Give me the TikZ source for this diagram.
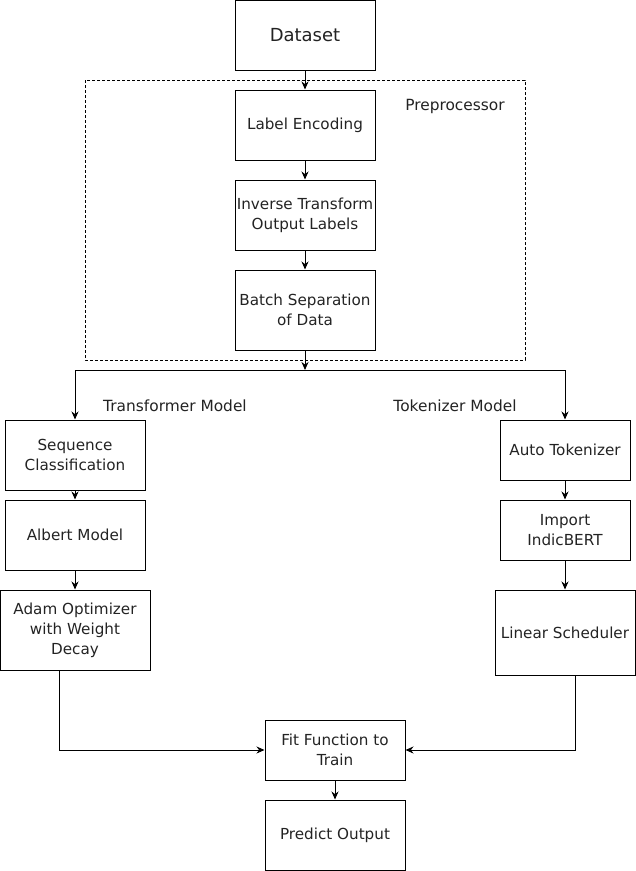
\documentclass[tikz,border=0pt]{standalone}
\usepackage{fontspec}
\setmainfont{DejaVu Sans}
\usetikzlibrary{arrows.meta,positioning}
\definecolor{txtgray}{RGB}{35,35,35}

\begin{document}
\begin{tikzpicture}[x=1pt,y=-1pt,
	block/.style={draw,line width=1pt,rectangle,inner sep=0pt,align=center,
		text=txtgray,font=\fontsize{15.2}{20}\selectfont},
	caption/.style={text=txtgray,font=\fontsize{15.4}{20}\selectfont},
	arrow/.style={-{Stealth[length=8pt,width=7pt]},line width=1pt}]
	\useasboundingbox (0,0) rectangle (636,871);
	% preprocessing column
	\node[block,minimum width=140,minimum height=70,font=\fontsize{18}{22}\selectfont] at (305,35) (dataset) {Dataset};
	\draw[line width=0.8pt,dash pattern=on 3pt off 2pt] (85,80) rectangle (525,360);
	\node[caption] at (455,106) (prelabel) {Preprocessor};
	\node[block,minimum width=140,minimum height=70] at (305,125) (labelenc) {Label Encoding};
	\node[block,minimum width=140,minimum height=70] at (305,215) (inverse) {Inverse Transform\\Output Labels};
	\node[block,minimum width=140,minimum height=80] at (305,310) (batch) {Batch Separation\\of Data};
	\draw[arrow] (dataset) -- (labelenc);
	\draw[arrow] (labelenc) -- (inverse);
	\draw[arrow] (inverse) -- (batch);
	\coordinate (split) at (305,370);
	\draw[arrow] (batch) -- (split);
	% transformer branch
	\node[caption] at (175,406) (translabel) {Transformer Model};
	\node[block,minimum width=140,minimum height=70] at (75,455) (seqclass) {Sequence\\Classification};
	\node[block,minimum width=140,minimum height=70] at (75,535) (albert) {Albert Model};
	\node[block,minimum width=150,minimum height=80] at (75,630) (adam) {Adam Optimizer\\with Weight\\Decay};
	\draw[arrow] (split) -| (seqclass);
	\draw[arrow] (seqclass) -- (albert);
	\draw[arrow] (albert) -- (adam);
	% tokenizer branch
	\node[caption] at (455,406) (toklabel) {Tokenizer Model};
	\node[block,minimum width=130,minimum height=60] at (565,450) (autotok) {Auto Tokenizer};
	\node[block,minimum width=130,minimum height=60] at (565,530) (indic) {Import\\IndicBERT};
	\node[block,minimum width=140,minimum height=85] at (565,632.5) (linsched) {Linear Scheduler};
	\draw[arrow] (split) -| (autotok);
	\draw[arrow] (autotok) -- (indic);
	\draw[arrow] (indic) -- (linsched);
	% training
	\node[block,minimum width=140,minimum height=60] at (335,750) (fitfn) {Fit Function to\\Train};
	\node[block,minimum width=140,minimum height=70] at (335,835) (predict) {Predict Output};
	\draw[arrow] ([xshift=-16pt]adam.south) |- (fitfn.west);
	\draw[arrow] ([xshift=10pt]linsched.south) |- (fitfn.east);
	\draw[arrow] (fitfn) -- (predict);
\end{tikzpicture}
\end{document}
